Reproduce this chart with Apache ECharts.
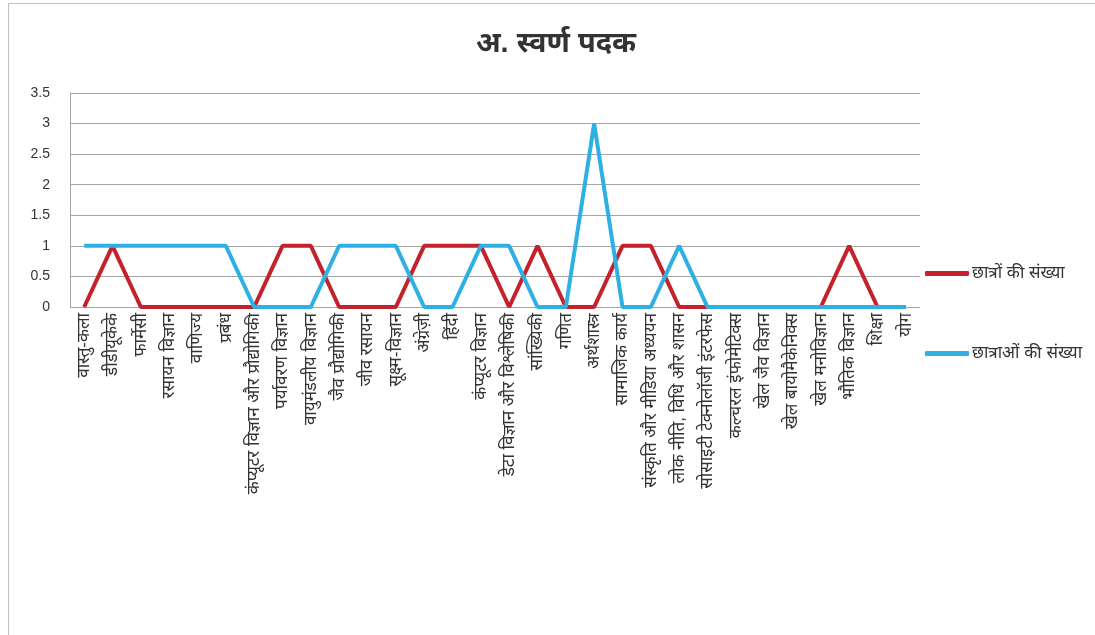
<!DOCTYPE html>
<html><head><meta charset="utf-8">
<script src="https://cdn.jsdelivr.net/npm/echarts@6/dist/echarts.min.js"></script>
<style>html,body{margin:0;padding:0;background:#fff}#c{width:1095px;height:635px}</style>
</head><body><div id="c"></div>
<script>
const categories = ['वास्तु-कला','डीडीयूकेके','फार्मेसी','रसायन विज्ञान','वाणिज्य','प्रबंध','कंप्यूटर विज्ञान और प्रौद्योगिकी','पर्यावरण विज्ञान','वायुमंडलीय विज्ञान','जैव प्रौद्योगिकी','जीव रसायन','सूक्ष्म-विज्ञान','अंग्रेज़ी','हिंदी','कंप्यूटर विज्ञान','डेटा विज्ञान और विश्लेषिकी','सांख्यिकी','गणित','अर्थशास्त्र','सामाजिक कार्य','संस्कृति और मीडिया अध्ययन','लोक नीति, विधि और शासन','सोसाइटी टेक्नोलॉजी इंटरफेस','कल्चरल इंफोमेटिक्स','खेल जैव विज्ञान','खेल बायोमैकेनिक्स','खेल मनोविज्ञान','भौतिक विज्ञान','शिक्षा','योग'];
const boys  = [0,1,0,0,0,0,0,1,1,0,0,0,1,1,1,0,1,0,0,1,1,0,0,0,0,0,0,1,0,0];
const girls = [1,1,1,1,1,1,0,0,0,1,1,1,0,0,1,1,0,0,3,0,0,1,0,0,0,0,0,0,0,0];
const seriesNames = ['छात्रों की संख्या','छात्राओं की संख्या'];
const titleText = 'अ. स्वर्ण पदक';

const font = "'Liberation Sans', Arial, 'Noto Sans', sans-serif";
const chart = echarts.init(document.getElementById('c'), null, {renderer:'canvas'});
chart.setOption({
  animation:false,
  textStyle:{fontFamily:font},
  graphic:[{type:'rect', shape:{x:8.5,y:3.5,width:1200,height:700}, style:{fill:'none', stroke:'#bfbfbf', lineWidth:1}, silent:true, z:-1}],
  title:{text:titleText, left:551, textAlign:'center', top:24, textStyle:{fontSize:29, fontWeight:'bold', color:'#333', fontFamily:font}},
  legend:{orient:'vertical', left:925, top:265, padding:0, itemGap:63, itemWidth:44, itemHeight:5, icon:'roundRect',
    textStyle:{fontSize:17, color:'#333', fontFamily:font, padding:[0,0,0,-2]}, data:seriesNames},
  grid:{left:70, right:175, top:93, bottom:328, containLabel:false},
  xAxis:{type:'category', data:categories, boundaryGap:true,
    axisLine:{show:false}, axisTick:{show:false},
    axisLabel:{interval:0, rotate:90, fontSize:17, color:'#333', margin:6, fontFamily:font}},
  yAxis:{type:'value', min:0, max:3.5, interval:0.5,
    axisLine:{show:true, lineStyle:{color:'#a6a6a6', width:1}}, axisTick:{show:false},
    axisLabel:{fontSize:14, color:'#333', margin:20, fontFamily:font},
    splitLine:{lineStyle:{color:'#a6a6a6', width:1}}},
  series:[
    {name:seriesNames[0], type:'line', data:boys, showSymbol:false, symbol:'none', lineStyle:{color:'#c4212a', width:4}, itemStyle:{color:'#c4212a'}, z:2},
    {name:seriesNames[1], type:'line', data:girls, showSymbol:false, symbol:'none', lineStyle:{color:'#2eb0e4', width:4}, itemStyle:{color:'#2eb0e4'}, z:3}
  ]
});
</script></body></html>
